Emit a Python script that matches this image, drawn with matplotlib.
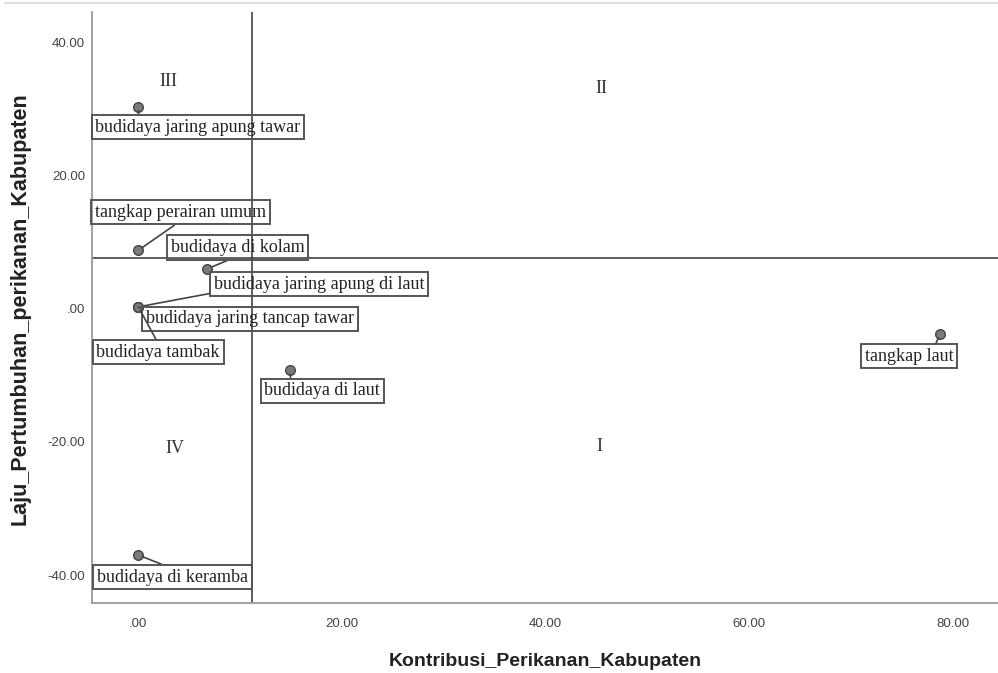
import matplotlib
matplotlib.use("Agg")
import matplotlib.pyplot as plt
from matplotlib.lines import Line2D

# data
labels = [
    "budidaya jaring apung tawar",
    "tangkap perairan umum",
    "budidaya di kolam",
    "budidaya jaring apung di laut",
    "budidaya jaring tancap tawar",
    "budidaya tambak",
    "budidaya di laut",
    "tangkap laut",
    "budidaya di keramba",
]
kontribusi = [0.05, 0.05, 6.8, 0.05, 0.05, 0.05, 14.9, 78.7, 0.05]
laju = [30.4, 8.8, 6.0, 0.3, 0.3, 0.3, -9.2, -3.8, -37.0]

# where each label box sits (data coords, box centre)
label_x = [5.9, 4.2, 9.8, 17.8, 11.0, 2.0, 18.1, 75.7, 3.4]
label_y = [27.3, 14.5, 9.2, 3.7, -1.5, -6.5, -12.3, -7.1, -40.3]
# where the leader line leaves each box (fraction of box)
leader_from = [(0.21, 1), (0.5, 0), (0.5, 0), (0, 0), (0, 1),
               (0.5, 1), (0.23, 1), (0.78, 1), (0.5, 1)]

mean_x = 11.2
mean_y = 7.6

quadrants = ["I", "II", "III", "IV"]
quad_x = [45.3, 45.5, 3.0, 3.6]
quad_y = [-20.7, 33.1, 34.1, -21.0]

xticks = [0, 20, 40, 60, 80]
yticks = [-40, -20, 0, 20, 40]


def fmt(v):
    s = "%.2f" % v
    return s[1:] if s.startswith("0") else s


fig = plt.figure(figsize=(9.98, 6.73), dpi=100)
ax = fig.add_axes([92 / 998, 1 - 603 / 673, 1 - 92 / 998, (603 - 12) / 673])

ax.set_xlim(-4.5, 84.4)
ax.set_ylim(-44.2, 44.6)

# reference lines
ax.axvline(mean_x, color="#333333", lw=1.1, zorder=1)
ax.axhline(mean_y, color="#333333", lw=1.1, zorder=1)

# points
ax.scatter(kontribusi, laju, s=48, color="#7a7a7a", edgecolors="#444444",
           linewidths=1.0, zorder=3)

serif = ["Liberation Serif", "DejaVu Serif"]
for name, px, py, lx, ly, rp in zip(labels, kontribusi, laju,
                                    label_x, label_y, leader_from):
    ax.annotate(name, xy=(px, py), xytext=(lx, ly), ha="center", va="center",
                family=serif, fontsize=13, color="#222222",
                bbox=dict(boxstyle="square,pad=0.2", fc="none",
                          ec="#555555", lw=1.4),
                arrowprops=dict(arrowstyle="-", color="#444444", lw=1.2,
                                shrinkA=0, shrinkB=3, relpos=rp),
                zorder=4)

for q, qx, qy in zip(quadrants, quad_x, quad_y):
    ax.text(qx, qy, q, ha="center", va="center", family=serif,
            fontsize=13, color="#333333")

# axes styling
for side in ["top", "right"]:
    ax.spines[side].set_visible(False)
for side in ["left", "bottom"]:
    ax.spines[side].set_color("#9a9a9a")
    ax.spines[side].set_linewidth(1.3)

sans = ["Liberation Sans", "DejaVu Sans"]
ax.set_xticks(xticks)
ax.set_xticklabels([fmt(v) for v in xticks], family=sans, fontsize=9.5,
                   color="#444444")
ax.set_yticks(yticks)
ax.set_yticklabels([fmt(v) for v in yticks], family=sans, fontsize=9.5,
                   color="#444444")
ax.tick_params(axis="x", length=0, pad=11)
ax.tick_params(axis="y", length=0, pad=5)

ax.set_xlabel("Kontribusi_Perikanan_Kabupaten", family=sans,
              fontsize=14, fontweight="bold", color="#222222")
ax.xaxis.set_label_coords(0.5, (603 - 662) / 591)
ax.xaxis.label.set_va("center")

ax.set_ylabel("Laju_Pertumbuhan_perikanan_Kabupaten", family=sans,
              fontsize=15.5, fontweight="bold", color="#222222")
ax.yaxis.set_label_coords((20 - 92) / 906, (603 - 309) / 591)
ax.yaxis.label.set_va("center")

# thin frame line at the very top
fig.add_artist(Line2D([5 / 998, 1], [1 - 3 / 673, 1 - 3 / 673],
                      color="#dddddd", lw=1.5))

fig.savefig("out.png", dpi=100)
